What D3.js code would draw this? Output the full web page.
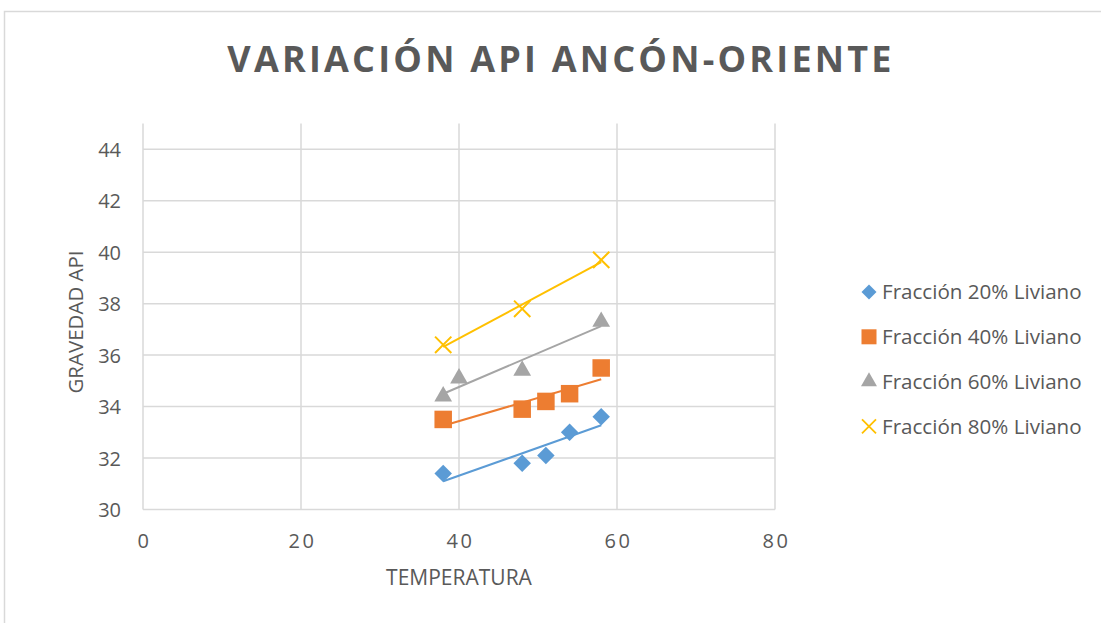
<!DOCTYPE html>
<html>
<head>
<meta charset="utf-8">
<script src="https://cdn.jsdelivr.net/npm/d3@7"></script>
<style>
  body { margin: 0; background: #fff; }
  text { font-family: "Open Sans", "Noto Sans", sans-serif; fill: #595959; }
</style>
</head>
<body>
<div id="chart"></div>
<script>
// datos
var xTicks = [0, 20, 40, 60, 80]
var yTicks = [30, 32, 34, 36, 38, 40, 42, 44]
var seriesNames = ["Fracción 20% Liviano", "Fracción 40% Liviano", "Fracción 60% Liviano", "Fracción 80% Liviano"]
var seriesColors = ["#5B9BD5", "#ED7D31", "#A5A5A5", "#FFC000"]
var seriesShapes = ["diamond", "square", "triangle", "cross"]
var temp20 = [38, 48, 51, 54, 58]
var api20 = [31.4, 31.8, 32.1, 33.0, 33.6]
var temp40 = [38, 48, 51, 54, 58]
var api40 = [33.5, 33.9, 34.2, 34.5, 35.5]
var temp60 = [38, 40, 48, 58]
var api60 = [34.4, 35.1, 35.4, 37.3]
var temp80 = [38, 48, 58]
var api80 = [36.4, 37.8, 39.7]

var width = 1101, height = 623
var svg = d3.select("#chart").append("svg").attr("width", width).attr("height", height)

// marco
svg.append("rect").attr("x", 4.5).attr("y", 11.5).attr("width", 1110).attr("height", 620)
  .attr("fill", "#fff").attr("stroke", "#d9d9d9").attr("stroke-width", 1.5)

var x = d3.scaleLinear().domain([0, 80]).range([143, 775])
var y = d3.scaleLinear().domain([30, 45]).range([509.5, 123.5])

// rejilla
var grid = svg.append("g")
grid.selectAll("line.h").data(yTicks).enter().append("line")
  .attr("x1", x(0)).attr("x2", x(80))
  .attr("y1", d => y(d)).attr("y2", d => y(d))
  .attr("stroke", "#d9d9d9").attr("stroke-width", 1.5)
grid.selectAll("line.v").data(xTicks).enter().append("line")
  .attr("x1", d => x(d)).attr("x2", d => x(d))
  .attr("y1", y(30)).attr("y2", y(45))
  .attr("stroke", "#d9d9d9").attr("stroke-width", 1.5)

// etiquetas de ejes
var xAxis = d3.axisBottom(x).tickValues(xTicks).tickSize(0).tickPadding(0)
var gx = svg.append("g").attr("transform", "translate(1," + (y(30) + 38.5) + ")").call(xAxis)
gx.select(".domain").remove()
gx.selectAll("text").attr("font-size", "20px").attr("letter-spacing", "2.5px").attr("fill", "#595959")
  .attr("dy", 0).attr("font-family", "Open Sans")

var yAxis = d3.axisLeft(y).tickValues(yTicks).tickSize(0).tickPadding(0)
var gy = svg.append("g").attr("transform", "translate(121,0)").call(yAxis)
gy.select(".domain").remove()
gy.selectAll("text").attr("font-size", "20px").attr("fill", "#595959").attr("dy", "0.35em")
  .attr("font-family", "Open Sans")

// titulo
svg.append("text").attr("x", 561).attr("y", 72).attr("text-anchor", "middle")
  .attr("font-size", "36px").attr("font-weight", "bold").attr("letter-spacing", "3.2px")
  .text("VARIACIÓN API ANCÓN-ORIENTE")

svg.append("text").attr("x", 459).attr("y", 585).attr("text-anchor", "middle")
  .attr("font-size", "21px").text("TEMPERATURA")
svg.append("text").attr("transform", "translate(83,322) rotate(-90)").attr("text-anchor", "middle")
  .attr("font-size", "20.5px").text("GRAVEDAD API")

var series = [
  { xs: temp20, ys: api20 },
  { xs: temp40, ys: api40 },
  { xs: temp60, ys: api60 },
  { xs: temp80, ys: api80 }
]

var symbolTypes = {
  diamond: d3.symbolDiamond2,
  square: d3.symbolSquare2,
  triangle: d3.symbolTriangle2,
  cross: d3.symbolTimes
}
var plotSizes = { diamond: 195, square: 390, triangle: 225, cross: 175 }
var legendSizes = { diamond: 143, square: 287, triangle: 183, cross: 130 }

// lineas de tendencia (regresion lineal)
series.forEach(function (s, i) {
  var mx = d3.mean(s.xs), my = d3.mean(s.ys)
  var sxy = d3.sum(s.xs, (v, k) => (v - mx) * (s.ys[k] - my))
  var sxx = d3.sum(s.xs, v => (v - mx) * (v - mx))
  var m = sxy / sxx, b = my - m * mx
  var x0 = d3.min(s.xs), x1 = d3.max(s.xs)
  svg.append("line")
    .attr("x1", x(x0)).attr("y1", y(m * x0 + b))
    .attr("x2", x(x1)).attr("y2", y(m * x1 + b))
    .attr("stroke", seriesColors[i]).attr("stroke-width", 2)
})

// puntos
series.forEach(function (s, i) {
  var pts = s.xs.map((v, k) => [v, s.ys[k]])
  var shape = seriesShapes[i]
  svg.append("g").selectAll("path").data(pts).enter().append("path")
    .attr("transform", d => "translate(" + x(d[0]) + "," + y(d[1]) + ")")
    .attr("d", d3.symbol().type(symbolTypes[shape]).size(plotSizes[shape])())
    .attr("fill", shape == "cross" ? "none" : seriesColors[i])
    .attr("stroke", seriesColors[i])
    .attr("stroke-width", shape == "cross" ? 2 : 0)
})

// leyenda
var legend = svg.append("g")
seriesNames.forEach(function (name, i) {
  var ly = 292 + i * 44.8
  var shape = seriesShapes[i]
  legend.append("path").attr("transform", "translate(869," + ly + ")")
    .attr("d", d3.symbol().type(symbolTypes[shape]).size(legendSizes[shape])())
    .attr("fill", shape == "cross" ? "none" : seriesColors[i])
    .attr("stroke", seriesColors[i]).attr("stroke-width", shape == "cross" ? 1.8 : 0)
  legend.append("text").attr("x", 882).attr("y", ly).attr("dy", "0.35em")
    .attr("font-size", "20.6px").text(name)
})
</script>
</body>
</html>
